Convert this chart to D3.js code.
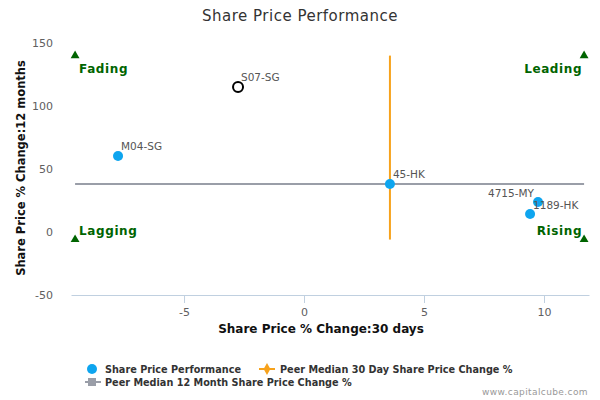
<!DOCTYPE html>
<html>
<head>
<meta charset="utf-8">
<script src="https://cdn.jsdelivr.net/npm/d3@7"></script>
<style>
  body { margin: 0; background: #fff; }
  text { font-family: "DejaVu Sans", sans-serif; }
</style>
</head>
<body>
<svg id="chart" width="600" height="400"></svg>
<script>
// data
var companies = ["M04-SG", "S07-SG", "45-HK", "4715-MY", "1189-HK"];
var change30d = [-7.75, -2.75, 3.58, 9.75, 9.42];
var change12m = [60.3, 115, 38.1, 23.8, 14.3];
var highlighted = "S07-SG";

var median30d = 3.58;
var median12m = 38;
var quadrantX = [-9.54, 11.67];
var quadrantY = [-6, 140];

var xTicks = [-5, 0, 5, 10];
var yTicks = [-50, 0, 50, 100, 150];

var legendItems = ["Share Price Performance", "Peer Median 30 Day Share Price Change %", "Peer Median 12 Month Share Price Change %"];

var svg = d3.select("#chart");

var x = d3.scaleLinear().domain([-9.71, 11.875]).range([71, 589]);
var y = d3.scaleLinear().domain([-50, 150]).range([295, 43]);

// plain hyphen for negatives, like the original
var fmt = function(d) { return String(d); };

// title
svg.append("text")
    .attr("x", 300).attr("y", 21)
    .attr("text-anchor", "middle")
    .attr("font-size", 15)
    .attr("letter-spacing", 0.5)
    .attr("fill", "#333")
    .text("Share Price Performance");

// x axis
var xAxis = svg.append("g")
    .attr("transform", "translate(0,295)")
    .call(d3.axisBottom(x).tickValues(xTicks).tickFormat(fmt).tickSize(8).tickSizeOuter(0));
xAxis.select(".domain").attr("stroke", "#c0d0e0");
xAxis.selectAll(".tick line").attr("stroke", "#c0d0e0");
xAxis.selectAll(".tick text")
    .attr("fill", "#606060").attr("font-size", 11).attr("dy", "0.9em")
    .attr("font-family", "DejaVu Sans");

// y axis (labels only)
var yAxis = svg.append("g")
    .attr("transform", "translate(56,0)")
    .call(d3.axisLeft(y).tickValues(yTicks).tickFormat(fmt).tickSize(0));
yAxis.select(".domain").remove();
yAxis.selectAll(".tick text")
    .attr("fill", "#606060").attr("font-size", 11)
    .attr("font-family", "DejaVu Sans");

// axis titles
svg.append("text")
    .attr("x", 321).attr("y", 333)
    .attr("text-anchor", "middle")
    .attr("font-size", 12).attr("font-weight", "bold")
    .attr("fill", "#111")
    .text("Share Price % Change:30 days");

svg.append("text")
    .attr("transform", "translate(25,168) rotate(-90)")
    .attr("text-anchor", "middle")
    .attr("font-size", 11.5).attr("font-weight", "bold")
    .attr("fill", "#111")
    .text("Share Price % Change:12 months");

// median lines
svg.append("line")
    .attr("x1", x(quadrantX[0])).attr("x2", x(quadrantX[1]))
    .attr("y1", y(median12m)).attr("y2", y(median12m))
    .attr("stroke", "#9a9ea8").attr("stroke-width", 2);

svg.append("line")
    .attr("x1", x(median30d)).attr("x2", x(median30d))
    .attr("y1", y(quadrantY[0])).attr("y2", y(quadrantY[1]))
    .attr("stroke", "#f7a21b").attr("stroke-width", 2);

// quadrant markers and labels
var tri = d3.symbol().type(d3.symbolTriangle).size(34);
quadrantX.forEach(function(qx) {
    quadrantY.forEach(function(qy) {
        svg.append("path")
            .attr("d", tri)
            .attr("transform", "translate(" + x(qx) + "," + y(qy) + ")")
            .attr("fill", "#006400");
    });
});

var quadLabels = [
    { t: "Fading", qx: 0, qy: 1, anchor: "start" },
    { t: "Leading", qx: 1, qy: 1, anchor: "end" },
    { t: "Lagging", qx: 0, qy: 0, anchor: "start" },
    { t: "Rising", qx: 1, qy: 0, anchor: "end" }
];
quadLabels.forEach(function(q) {
    svg.append("text")
        .attr("x", x(quadrantX[q.qx]) + (q.anchor === "start" ? 4 : -2))
        .attr("y", y(quadrantY[q.qy]) + (q.qy === 1 ? 17 : -5))
        .attr("text-anchor", q.anchor)
        .attr("font-size", 12).attr("font-weight", "bold")
        .attr("fill", "#006400")
        .attr("letter-spacing", 0.6)
        .text(q.t);
});

// points
var pts = svg.append("g");
companies.forEach(function(c, i) {
    var isHi = c === highlighted;
    pts.append("circle")
        .attr("cx", x(change30d[i])).attr("cy", y(change12m[i]))
        .attr("r", 5)
        .attr("fill", isHi ? "#fff" : "#0ea5ef")
        .attr("stroke", isHi ? "#000" : "none")
        .attr("stroke-width", 2);
});

var labelOffsets = { "4715-MY": [-50, -5], "1189-HK": [3, -5] };
companies.forEach(function(c, i) {
    var off = labelOffsets[c] || [3, -6];
    pts.append("text")
        .attr("x", x(change30d[i]) + off[0])
        .attr("y", y(change12m[i]) + off[1])
        .attr("font-size", 10.5)
        .attr("fill", "#555")
        .text(c);
});

// legend
var lg = svg.append("g").attr("font-size", 9.7).attr("font-weight", "bold").attr("fill", "#333");
lg.append("circle").attr("cx", 92).attr("cy", 369).attr("r", 5).attr("fill", "#0ea5ef");
lg.append("text").attr("x", 105).attr("y", 372.5).text(legendItems[0]);

lg.append("line").attr("x1", 259).attr("x2", 275).attr("y1", 369).attr("y2", 369)
    .attr("stroke", "#f7a21b").attr("stroke-width", 2);
lg.append("path").attr("d", d3.symbol().type(d3.symbolDiamond).size(40))
    .attr("transform", "translate(267,369)").attr("fill", "#f7a21b");
lg.append("text").attr("x", 280).attr("y", 372.5).text(legendItems[1]);

lg.append("line").attr("x1", 85).attr("x2", 101).attr("y1", 382).attr("y2", 382)
    .attr("stroke", "#9a9ea8").attr("stroke-width", 2);
lg.append("rect").attr("x", 88).attr("y", 378).attr("width", 8).attr("height", 8).attr("fill", "#9a9ea8");
lg.append("text").attr("x", 105).attr("y", 385.5).text(legendItems[2]);

// credit
svg.append("text")
    .attr("x", 588).attr("y", 395)
    .attr("text-anchor", "end")
    .attr("font-size", 9).attr("letter-spacing", 0.4).attr("fill", "#999")
    .text("www.capitalcube.com");
</script>
</body>
</html>
